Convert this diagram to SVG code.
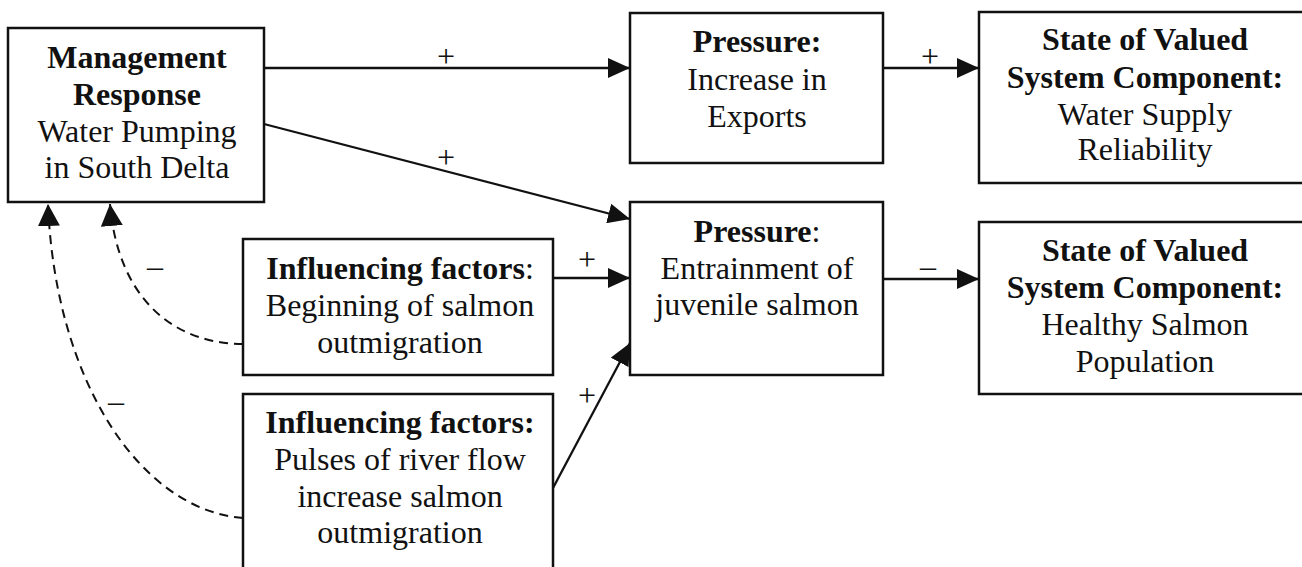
<svg xmlns="http://www.w3.org/2000/svg" width="1302" height="567" viewBox="0 0 1302 567">
<style>
.box{fill:#fff;stroke:#111;stroke-width:2.5}
.t{font-family:"Liberation Serif","Times New Roman",serif;font-size:32px;fill:#111;text-anchor:middle}
.b{font-weight:bold}
.lbl{font-family:"Liberation Serif","Times New Roman",serif;font-size:32px;fill:#111;text-anchor:middle}
.c{fill:none;stroke:#111;stroke-width:2.3}
.d{fill:none;stroke:#111;stroke-width:2;stroke-dasharray:9 6}
</style>
<defs>
<marker id="ah" viewBox="0 0 22 20" refX="22" refY="10" markerWidth="22" markerHeight="20" markerUnits="userSpaceOnUse" orient="auto">
<path d="M0,0 L22,10 L0,20 z" fill="#111"/>
</marker>
<marker id="ah2" viewBox="0 0 22 22" refX="22" refY="11" markerWidth="22" markerHeight="22" markerUnits="userSpaceOnUse" orient="auto">
<path d="M0,0 L22,11 L0,22 z" fill="#111"/>
</marker>
</defs>
<rect width="1302" height="567" fill="#fff"/>
<g id="connectors">
<line class="c" x1="264" y1="68" x2="630" y2="68" marker-end="url(#ah)"/>
<line class="c" x1="264" y1="124" x2="630" y2="219" marker-end="url(#ah)"/>
<line class="c" x1="883" y1="68" x2="979" y2="68" marker-end="url(#ah)"/>
<line class="c" x1="553" y1="278" x2="630" y2="278" marker-end="url(#ah)"/>
<line class="c" x1="553" y1="488" x2="630" y2="343" marker-end="url(#ah)"/>
<line class="c" x1="883" y1="279" x2="979" y2="279" marker-end="url(#ah)"/>
<path class="d" d="M243,344 C175,344 118,300 110,204" marker-end="url(#ah2)"/>
<path class="d" d="M243,518 C140,510 55,380 48,204" marker-end="url(#ah2)"/>
<text class="lbl" x="446" y="67">+</text>
<text class="lbl" x="446" y="168">+</text>
<text class="lbl" x="930" y="67">+</text>
<text class="lbl" x="587" y="270">+</text>
<text class="lbl" x="587" y="406">+</text>
<text class="lbl" x="928" y="277">–</text>
<text class="lbl" x="155" y="277">–</text>
<text class="lbl" x="116" y="412">–</text>
</g>
<g id="management">
<rect class="box" x="8" y="28" width="256" height="174"/>
<text class="t b" x="137" y="68">Management</text>
<text class="t b" x="137" y="105">Response</text>
<text class="t" x="137" y="142">Water Pumping</text>
<text class="t" x="137" y="178">in South Delta</text>
</g>
<g id="pressure-exports">
<rect class="box" x="630" y="13" width="253" height="150"/>
<text class="t b" x="757" y="52">Pressure:</text>
<text class="t" x="757" y="90">Increase in</text>
<text class="t" x="757" y="127">Exports</text>
</g>
<g id="state-water">
<rect class="box" x="979" y="12" width="340" height="171"/>
<text class="t b" x="1145" y="50">State of Valued</text>
<text class="t b" x="1145" y="88">System Component:</text>
<text class="t" x="1145" y="125">Water Supply</text>
<text class="t" x="1145" y="160">Reliability</text>
</g>
<g id="pressure-entrainment">
<rect class="box" x="630" y="202" width="253" height="173"/>
<text class="t" x="757" y="242"><tspan class="b">Pressure</tspan>:</text>
<text class="t" x="757" y="279">Entrainment of</text>
<text class="t" x="757" y="315">juvenile salmon</text>
</g>
<g id="state-salmon">
<rect class="box" x="979" y="222" width="340" height="172"/>
<text class="t b" x="1145" y="261">State of Valued</text>
<text class="t b" x="1145" y="298">System Component:</text>
<text class="t" x="1145" y="335">Healthy Salmon</text>
<text class="t" x="1145" y="372">Population</text>
</g>
<g id="influence-beginning">
<rect class="box" x="243" y="239" width="310" height="136"/>
<text class="t" x="400" y="279"><tspan class="b">Influencing factors</tspan>:</text>
<text class="t" x="400" y="316">Beginning of salmon</text>
<text class="t" x="400" y="353">outmigration</text>
</g>
<g id="influence-pulses">
<rect class="box" x="243" y="394" width="310" height="200"/>
<text class="t b" x="400" y="433">Influencing factors:</text>
<text class="t" x="400" y="470">Pulses of river flow</text>
<text class="t" x="400" y="507">increase salmon</text>
<text class="t" x="400" y="543">outmigration</text>
</g>
</svg>
